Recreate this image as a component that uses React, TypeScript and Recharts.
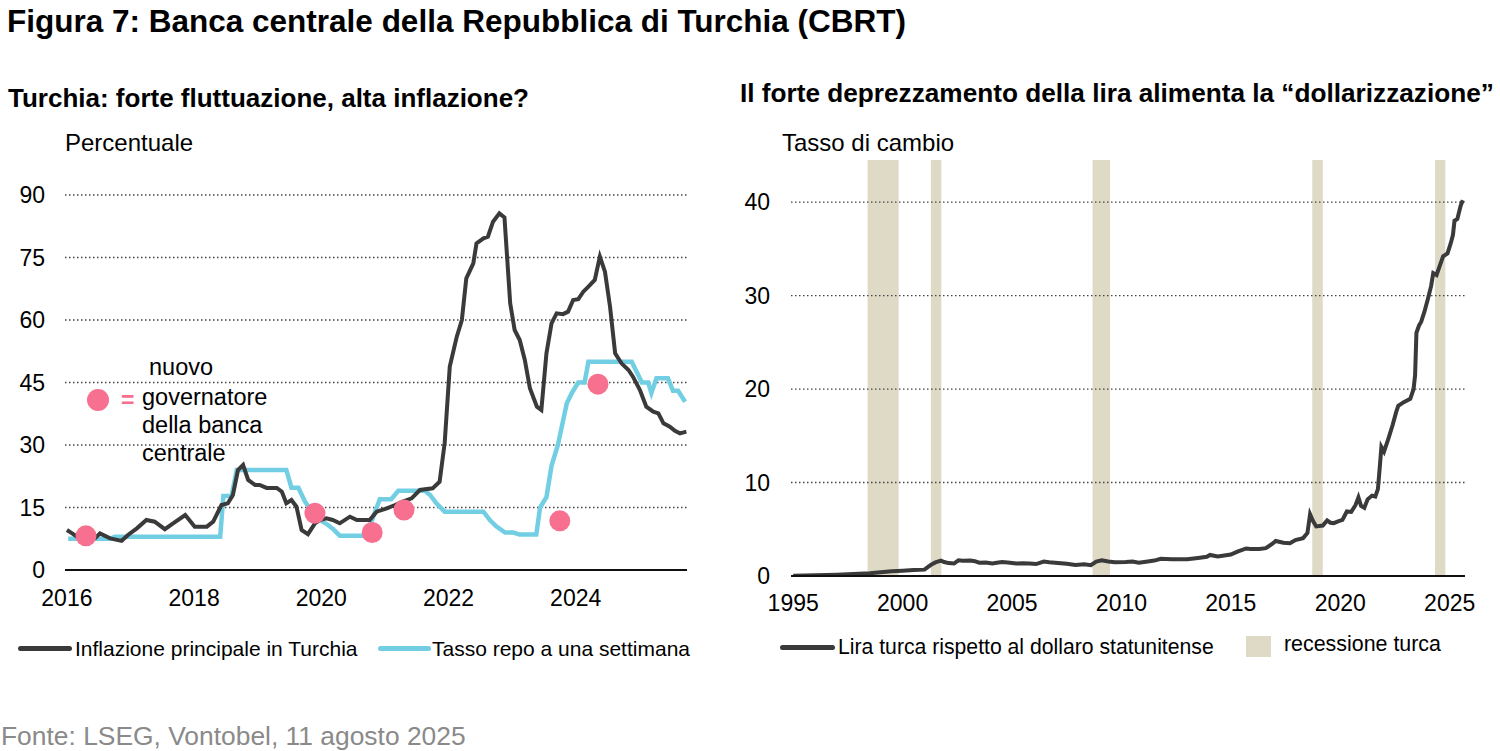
import {
  ComposedChart,
  LineChart,
  Line,
  Scatter,
  XAxis,
  YAxis,
  ReferenceArea,
  ReferenceLine,
} from "recharts";

/* ---------- colours ---------- */
const COLORS = {
  infl: "#3a3a3a",
  repo: "#72cfe3",
  governor: "#f7708f",
  lira: "#3a3a3a",
  recession: "#dedac6",
  grid: "#444",
  footer: "#8a8a8a",
};

const FONT = '"Liberation Sans", Arial, sans-serif';

/* ---------- left chart: inflation vs repo rate ---------- */
const inflYears = [
  2016.0, 2016.07, 2016.2, 2016.33, 2016.44, 2016.52, 2016.68, 2016.86, 2016.96,
  2017.1, 2017.25, 2017.38, 2017.54, 2017.67, 2017.86, 2018.01, 2018.2, 2018.3,
  2018.43, 2018.53, 2018.61, 2018.69, 2018.77, 2018.85, 2018.96, 2019.03,
  2019.14, 2019.3, 2019.38, 2019.45, 2019.53, 2019.61, 2019.69, 2019.79, 2019.9,
  2019.98, 2020.08, 2020.18, 2020.29, 2020.45, 2020.56, 2020.76, 2020.87,
  2021.03, 2021.16, 2021.28, 2021.42, 2021.55, 2021.75, 2021.86, 2021.94,
  2022.02, 2022.13, 2022.21, 2022.28, 2022.39, 2022.44, 2022.55, 2022.62,
  2022.7, 2022.8, 2022.88, 2022.97, 2023.04, 2023.12, 2023.2, 2023.28, 2023.39,
  2023.46, 2023.54, 2023.62, 2023.7, 2023.8, 2023.88, 2023.96, 2024.04, 2024.12,
  2024.2, 2024.3, 2024.38, 2024.46, 2024.54, 2024.62, 2024.72, 2024.83, 2024.9,
  2025.01, 2025.11, 2025.22, 2025.3, 2025.38, 2025.48, 2025.56, 2025.64, 2025.74,
];
const inflValues = [
  9.6, 8.9, 7.6, 7.0, 7.6, 8.8, 7.6, 7.0, 8.4,
  10.0, 12.0, 11.6, 9.8, 11.2, 13.2, 10.4, 10.4, 11.6,
  15.6, 16.0, 18.0, 24.0, 25.2, 21.6, 20.4, 20.4,
  19.7, 19.7, 18.8, 16.0, 16.8, 15.2, 9.6, 8.6, 11.2,
  12.0, 12.4, 12.0, 11.2, 12.8, 12.0, 12.0, 14.0,
  14.8, 15.6, 16.4, 17.2, 19.2, 19.6, 21.2, 30.5,
  48.8, 56.0, 60.0, 70.0, 73.6, 78.4, 79.6, 80.0,
  83.6, 85.6, 84.6, 64.0, 57.6, 55.2, 50.4, 43.6, 39.2,
  38.4, 52.0, 59.2, 61.6, 61.4, 62.0, 64.8, 65.0, 66.8,
  68.0, 69.6, 75.2, 71.6, 63.2, 52.0, 49.6, 48.0, 46.4,
  43.2, 39.2, 38.0, 37.6, 35.2, 34.4, 33.4, 32.8, 33.2,
];

const repoYears = [
  2016.02, 2016.68, 2016.75, 2018.41, 2018.46, 2018.59, 2018.67, 2019.45,
  2019.53, 2019.64, 2019.74, 2019.85, 2019.98, 2020.11, 2020.19, 2020.29,
  2020.71, 2020.87, 2020.92, 2021.1, 2021.21, 2021.63, 2021.71, 2021.81,
  2021.94, 2022.55, 2022.65, 2022.75, 2022.89, 2023.02, 2023.12, 2023.38,
  2023.44, 2023.54, 2023.62, 2023.72, 2023.86, 2023.94, 2024.04, 2024.14,
  2024.2, 2024.88, 2024.96, 2025.04, 2025.14, 2025.19, 2025.27, 2025.45,
  2025.53, 2025.61, 2025.72,
];
const repoValues = [
  7.5, 7.5, 8.0, 8.0, 17.75, 17.75, 24.0, 24.0,
  19.75, 19.75, 16.5, 14.0, 12.0, 10.75, 9.75, 8.25,
  8.25, 15.0, 17.0, 17.0, 19.0, 19.0, 18.0, 16.0,
  14.0, 14.0, 12.0, 10.5, 9.0, 9.0, 8.5, 8.5,
  15.0, 17.5, 25.0, 30.0, 40.0, 42.5, 45.0, 45.0,
  50.0, 50.0, 47.5, 45.0, 45.0, 42.5, 46.0, 46.0,
  43.0, 43.0, 40.4,
];

const governorYears = [2016.3, 2019.9, 2020.8, 2021.3, 2023.75, 2024.35];
const governorValues = [8.2, 13.6, 9.0, 14.4, 11.8, 44.6];

const leftYTicks = [0, 15, 30, 45, 60, 75, 90];
const leftXTicks = [2016, 2018, 2020, 2022, 2024];

/* ---------- right chart: lira vs dollar ---------- */
const tryYears = [
  1995.0, 1996.0, 1997.0, 1998.0, 1998.5, 1999.0, 1999.5, 2000.0, 2000.5,
  2001.0, 2001.15, 2001.3, 2001.5, 2001.75, 2001.9, 2002.1, 2002.35, 2002.55,
  2002.75, 2003.1, 2003.3, 2003.5, 2003.8, 2004.1, 2004.3, 2004.55, 2004.8,
  2005.2, 2005.5, 2005.8, 2006.1, 2006.45, 2006.7, 2007.1, 2007.5, 2007.9,
  2008.3, 2008.6, 2008.85, 2009.1, 2009.4, 2009.7, 2010.2, 2010.5, 2010.8,
  2011.2, 2011.5, 2011.8, 2012.3, 2012.7, 2013.0, 2013.5, 2013.9, 2014.05,
  2014.4, 2014.7, 2015.0, 2015.3, 2015.7, 2015.9, 2016.3, 2016.6, 2016.9,
  2017.05, 2017.4, 2017.7, 2017.95, 2018.3, 2018.5, 2018.62, 2018.75, 2018.9,
  2019.2, 2019.4, 2019.55, 2019.7, 2019.9, 2020.1, 2020.3, 2020.5, 2020.7,
  2020.83, 2020.95, 2021.1, 2021.25, 2021.45, 2021.6, 2021.72, 2021.8, 2021.88,
  2022.0, 2022.2, 2022.4, 2022.55, 2022.65, 2022.9, 2023.2, 2023.35, 2023.42,
  2023.48, 2023.6, 2023.7, 2023.85, 2024.0, 2024.15, 2024.25, 2024.4, 2024.55,
  2024.7, 2024.9, 2025.05, 2025.15, 2025.22, 2025.35, 2025.5, 2025.6,
];
const tryValues = [
  0.04, 0.08, 0.14, 0.25, 0.3, 0.4, 0.5, 0.56, 0.63,
  0.68, 0.95, 1.2, 1.45, 1.65, 1.5, 1.38, 1.33, 1.68,
  1.62, 1.65, 1.58, 1.42, 1.45, 1.33, 1.42, 1.5, 1.45,
  1.33, 1.36, 1.34, 1.28, 1.55, 1.47, 1.4, 1.3, 1.17,
  1.25, 1.16, 1.55, 1.68, 1.55, 1.47, 1.5, 1.55, 1.42,
  1.55, 1.65, 1.85, 1.78, 1.8, 1.78, 1.92, 2.05, 2.25,
  2.1, 2.2, 2.3, 2.6, 2.95, 2.9, 2.88, 2.98, 3.45,
  3.75, 3.55, 3.5, 3.85, 4.05, 4.6, 6.6, 5.9, 5.3,
  5.4, 5.95, 5.7, 5.65, 5.85, 6.0, 6.9, 6.85, 7.6,
  8.4, 7.5, 7.3, 8.2, 8.6, 8.5, 9.3, 11.5, 13.8,
  13.3, 14.7, 16.2, 17.5, 18.2, 18.6, 18.95, 20.0, 21.5,
  26.0, 26.8, 27.2, 28.3, 29.6, 31.0, 32.4, 32.2, 33.2,
  34.2, 34.5, 35.6, 36.5, 38.0, 38.2, 39.6, 40.2,
];

const recessionStart = [1998.4, 2001.29, 2008.68, 2018.72, 2024.33];
const recessionEnd = [1999.82, 2001.77, 2009.48, 2019.2, 2024.8];

const rightYTicks = [0, 10, 20, 30, 40];
const rightXTicks = [1995, 2000, 2005, 2010, 2015, 2020, 2025];

/* ---------- rows for recharts ---------- */
const inflData = inflYears.map((x, i) => ({ x, y: inflValues[i] }));
const repoData = repoYears.map((x, i) => ({ x, y: repoValues[i] }));
const govData = governorYears.map((x, i) => ({ x, y: governorValues[i] }));
const tryData = tryYears.map((x, i) => ({ x, y: tryValues[i] }));

const tickStyle = { fill: "#000", fontSize: 23, fontFamily: FONT };

function Text({
  x,
  y,
  size,
  bold,
  color,
  children,
}: {
  x: number;
  y: number;
  size: number;
  bold?: boolean;
  color?: string;
  children: React.ReactNode;
}) {
  return (
    <div
      style={{
        position: "absolute",
        left: x,
        top: y - size / 2,
        fontSize: size,
        lineHeight: `${size}px`,
        fontWeight: bold ? 700 : 400,
        color: color ?? "#000",
        whiteSpace: "nowrap",
        fontFamily: FONT,
      }}
    >
      {children}
    </div>
  );
}

function LegendLine({ x, y, w, color }: { x: number; y: number; w: number; color: string }) {
  return (
    <div
      style={{
        position: "absolute",
        left: x,
        top: y - 2.5,
        width: w,
        height: 5,
        borderRadius: 3,
        background: color,
      }}
    />
  );
}

function GovDot(props: { cx?: number; cy?: number }) {
  if (props.cx == null || props.cy == null) return null;
  return <circle cx={props.cx} cy={props.cy} r={10.5} fill={COLORS.governor} />;
}

function gridLines(ticks: number[]) {
  return ticks
    .filter((t) => t !== 0)
    .map((t) => (
      <ReferenceLine
        key={`g${t}`}
        y={t}
        stroke={COLORS.grid}
        strokeWidth={1.3}
        strokeDasharray="1.5 2.5"
      />
    ));
}

export default function App() {
  return (
    <div
      style={{
        position: "absolute",
        left: 0,
        top: 0,
        width: 1500,
        height: 751,
        background: "#fff",
        overflow: "hidden",
        fontFamily: FONT,
      }}
    >
      <Text x={7} y={22} size={31.5} bold>
        Figura 7: Banca centrale della Repubblica di Turchia (CBRT)
      </Text>
      <Text x={8} y={98} size={26} bold>
        Turchia: forte fluttuazione, alta inflazione?
      </Text>
      <Text x={740} y={93} size={26.2} bold>
        Il forte deprezzamento della lira alimenta la “dollarizzazione”
      </Text>
      <Text x={65} y={143} size={24}>
        Percentuale
      </Text>
      <Text x={782} y={143} size={24}>
        Tasso di cambio
      </Text>

      {/* ===== left chart ===== */}
      <div style={{ position: "absolute", left: 0, top: 170 }}>
        <ComposedChart
          width={700}
          height={460}
          margin={{ top: 25, right: 13, left: 0, bottom: 20 }}
        >
          {gridLines(leftYTicks)}
          <XAxis
            type="number"
            dataKey="x"
            domain={[2015.97, 2025.75]}
            ticks={leftXTicks}
            allowDataOverflow
            height={40}
            tickSize={0}
            tickMargin={19.5}
            tick={tickStyle}
            axisLine={{ stroke: "#111", strokeWidth: 2 }}
          />
          <YAxis
            type="number"
            domain={[0, 90]}
            ticks={leftYTicks}
            width={65}
            tickSize={0}
            tickMargin={20}
            tick={tickStyle}
            axisLine={false}
          />
          <Line
            data={repoData}
            dataKey="y"
            type="linear"
            stroke={COLORS.repo}
            strokeWidth={4.5}
            dot={false}
            isAnimationActive={false}
          />
          <Line
            data={inflData}
            dataKey="y"
            type="linear"
            stroke={COLORS.infl}
            strokeWidth={4}
            dot={false}
            isAnimationActive={false}
          />
          <Scatter
            data={govData}
            dataKey="y"
            shape={(p: { cx?: number; cy?: number }) => <GovDot cx={p.cx} cy={p.cy} />}
            isAnimationActive={false}
          />
        </ComposedChart>
      </div>

      {/* annotation for the pink dots */}
      <div
        style={{
          position: "absolute",
          left: 87,
          top: 389,
          width: 22,
          height: 22,
          borderRadius: 11,
          background: COLORS.governor,
        }}
      />
      <Text x={121} y={400} size={23} bold color={COLORS.governor}>
        =
      </Text>
      <Text x={149} y={368} size={23.5}>
        nuovo
      </Text>
      <Text x={142} y={398} size={23.5}>
        governatore
      </Text>
      <Text x={142} y={426} size={23.5}>
        della banca
      </Text>
      <Text x={142} y={454} size={23.5}>
        centrale
      </Text>

      {/* left legend */}
      <LegendLine x={18} y={648} w={54} color={COLORS.infl} />
      <Text x={75} y={648} size={21}>
        Inflazione principale in Turchia
      </Text>
      <LegendLine x={378} y={648} w={53} color={COLORS.repo} />
      <Text x={432} y={648} size={21}>
        Tasso repo a una settimana
      </Text>

      {/* ===== right chart ===== */}
      <div style={{ position: "absolute", left: 720, top: 140 }}>
        <LineChart
          width={780}
          height={500}
          margin={{ top: 20, right: 35, left: 0, bottom: 20 }}
        >
          <XAxis
            type="number"
            dataKey="x"
            domain={[1994.9, 2025.7]}
            ticks={rightXTicks}
            allowDataOverflow
            height={44}
            tickSize={0}
            tickMargin={19}
            tick={tickStyle}
            axisLine={{ stroke: "#111", strokeWidth: 2 }}
          />
          <YAxis
            type="number"
            domain={[0, 44.5]}
            ticks={rightYTicks}
            allowDataOverflow
            width={71}
            tickSize={0}
            tickMargin={21}
            tick={tickStyle}
            axisLine={false}
          />
          {gridLines(rightYTicks)}
          {recessionStart.map((s, i) => (
            <ReferenceArea
              key={i}
              x1={s}
              x2={recessionEnd[i]}
              y1={0}
              y2={44.5}
              fill={COLORS.recession}
              fillOpacity={1}
              stroke="none"
              ifOverflow="hidden"
            />
          ))}
          <Line
            data={tryData}
            dataKey="y"
            type="linear"
            stroke={COLORS.lira}
            strokeWidth={4}
            dot={false}
            isAnimationActive={false}
          />
        </LineChart>
      </div>

      {/* right legend */}
      <LegendLine x={780} y={647} w={55} color={COLORS.lira} />
      <Text x={838} y={647} size={21.2}>
        Lira turca rispetto al dollaro statunitense
      </Text>
      <div
        style={{
          position: "absolute",
          left: 1246,
          top: 636,
          width: 25,
          height: 21,
          background: COLORS.recession,
        }}
      />
      <Text x={1284} y={645} size={21.4}>
        recessione turca
      </Text>

      <Text x={1} y={736} size={26.4} color={COLORS.footer}>
        Fonte: LSEG, Vontobel, 11 agosto 2025
      </Text>
    </div>
  );
}
